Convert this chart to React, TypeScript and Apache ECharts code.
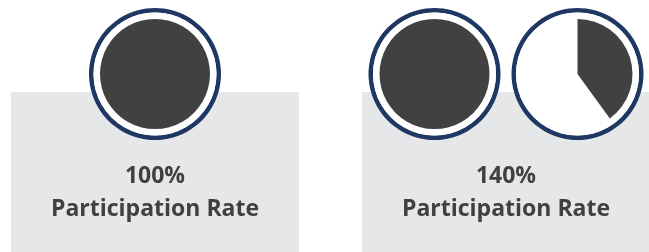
import React, { useEffect, useRef } from "react";
import * as echarts from "echarts";

const panelLabels = ["Participation Rate", "Participation Rate"];
const rates = [100, 140];

const NAVY = "#1f3763";
const DARK = "#414141";
const BOX = "#e6e7e9";
const TEXT = "#404040";

export default function App() {
  const ref = useRef<HTMLDivElement>(null);
  useEffect(() => {
    if (!ref.current) return;
    const chart = echarts.init(ref.current, undefined, { renderer: "svg" });
    const panelCenters = [155, 506];
    const panelWidth = 288;
    const cy = 74;
    const spacing = 143;
    const series: any[] = [];
    const graphic: any[] = [];
    rates.forEach((r, p) => {
      const n = Math.ceil(r / 100);
      const cx = panelCenters[p];
      graphic.push({
        type: "rect",
        z: -10,
        shape: { x: cx - panelWidth / 2, y: 92, width: panelWidth, height: 170 },
        style: { fill: BOX },
      });
      graphic.push({
        type: "text",
        z: 10,
        x: cx,
        y: 174,
        style: {
          text: `${r}%`,
          fill: TEXT,
          font: "bold 23px 'Open Sans'",
          align: "center",
          verticalAlign: "middle",
        },
      });
      graphic.push({
        type: "text",
        z: 10,
        x: cx,
        y: 207,
        style: {
          text: panelLabels[p],
          fill: TEXT,
          font: "bold 23px 'Open Sans'",
          align: "center",
          verticalAlign: "middle",
        },
      });
      for (let i = 0; i < n; i++) {
        const v = Math.min(100, r - 100 * i);
        const x = cx + (i - (n - 1) / 2) * spacing;
        const common = {
          type: "pie",
          center: [x, cy],
          silent: true,
          animation: false,
          label: { show: false },
          labelLine: { show: false },
          startAngle: 90,
          clockwise: true,
        };
        series.push({
          ...common,
          radius: [61.5, 66],
          itemStyle: { color: NAVY },
          data: [{ value: 1 }],
        });
        series.push({
          ...common,
          radius: [0, 61.5],
          itemStyle: { color: "#ffffff" },
          data: [{ value: 1 }],
        });
        series.push({
          ...common,
          radius: [0, 55],
          data: [
            { value: v, itemStyle: { color: DARK } },
            { value: 100 - v, itemStyle: { color: "rgba(0,0,0,0)" } },
          ],
        });
      }
    });
    chart.setOption({
      animation: false,
      graphic,
      series,
    });
    return () => chart.dispose();
  }, []);
  return (
    <div
      ref={ref}
      style={{ position: "fixed", left: 0, top: 0, width: 649, height: 252 }}
    />
  );
}
